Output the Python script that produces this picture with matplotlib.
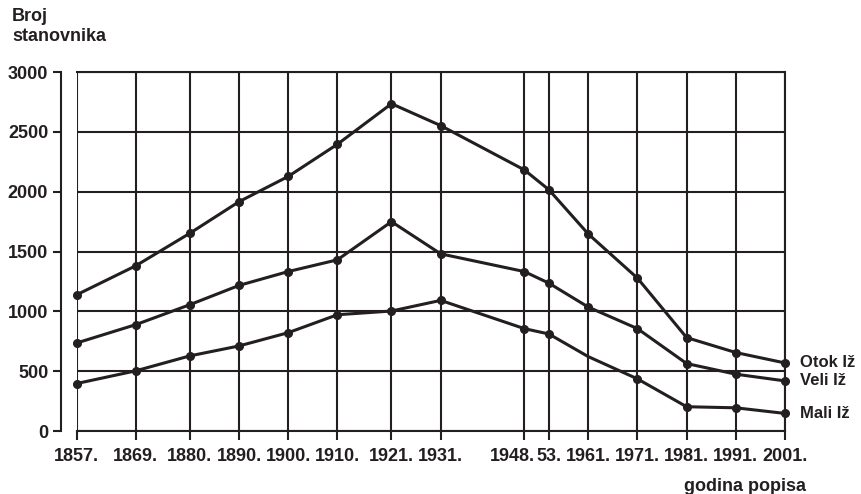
import matplotlib
matplotlib.use('Agg')
import matplotlib.pyplot as plt
from matplotlib.transforms import ScaledTranslation

# census years and population
years = [1857, 1869, 1880, 1890, 1900, 1910, 1921, 1931, 1948, 1953, 1961, 1971, 1981, 1991, 2001]
year_labels = ['1857.', '1869.', '1880.', '1890.', '1900.', '1910.', '1921.', '1931.',
               '1948.', '53.', '1961.', '1971.', '1981.', '1991.', '2001.']
otok_iz = [1139, 1381, 1653, 1917, 2128, 2397, 2736, 2553, 2183, 2017, 1647, 1278, 781, 656, 569]
veli_iz = [736, 889, 1056, 1217, 1333, 1431, 1750, 1481, 1333, 1236, 1036, 856, 564, 475, 419]
mali_iz = [397, 503, 628, 711, 822, 972, 1003, 1092, 856, 811, 622, 436, 203, 194, 147]
series_names = ['Otok Iž', 'Veli Iž', 'Mali Iž']
y_ticks = [0, 500, 1000, 1500, 2000, 2500, 3000]

ink = '#231f20'
plt.rcParams['font.family'] = ['Liberation Sans', 'DejaVu Sans']
plt.rcParams['font.weight'] = 'bold'
plt.rcParams['font.size'] = 13

fig = plt.figure(figsize=(8.61, 4.94), dpi=100)
ax = fig.add_axes([0.0891, 0.1275, 0.9117 - 0.0891, 0.854 - 0.1275])

ax.set_xlim(years[0], years[-1])
ax.set_ylim(0, 3000)
ax.set_xticks(years)
ax.set_xticklabels(year_labels)
ax.set_yticks(y_ticks)

ax.set_axisbelow(True)
ax.grid(True, color=ink, linewidth=1.5)

for s in ax.spines.values():
    s.set_color(ink)
    s.set_linewidth(1.5)
ax.spines['left'].set_position(('outward', 11))

ax.tick_params(axis='x', direction='out', length=6.5, width=1.5, color=ink, pad=6, labelcolor=ink)
ax.tick_params(axis='y', direction='out', length=5.5, width=1.5, color=ink, pad=4, labelcolor=ink)

# "1948." sits left of its tick so "53." fits next to it
lbl = ax.get_xticklabels()[years.index(1948)]
lbl.set_horizontalalignment('right')
lbl.set_transform(lbl.get_transform() + ScaledTranslation(11 / 100, 0, fig.dpi_scale_trans))

for vals, name in zip([otok_iz, veli_iz, mali_iz], series_names):
    if name == 'Mali Iž':
        marks = [i for i, y in enumerate(years) if y != 1961]
    else:
        marks = list(range(len(years)))
    ax.plot(years, vals, color=ink, linewidth=2.2, marker='o', markersize=5.5,
            markevery=marks, clip_on=False, zorder=3)
    ax.annotate(name, (years[-1], vals[-1]), xytext=(11, 0), textcoords='offset points',
                ha='left', va='center', color=ink, fontsize=12, annotation_clip=False)

fig.text(0.014, 0.984, 'Broj\nstanovnika', ha='left', va='top', color=ink)
fig.text(745 / 861, 0.006, 'godina popisa', ha='center', va='baseline', color=ink)

fig.savefig('out.png', dpi=100)
